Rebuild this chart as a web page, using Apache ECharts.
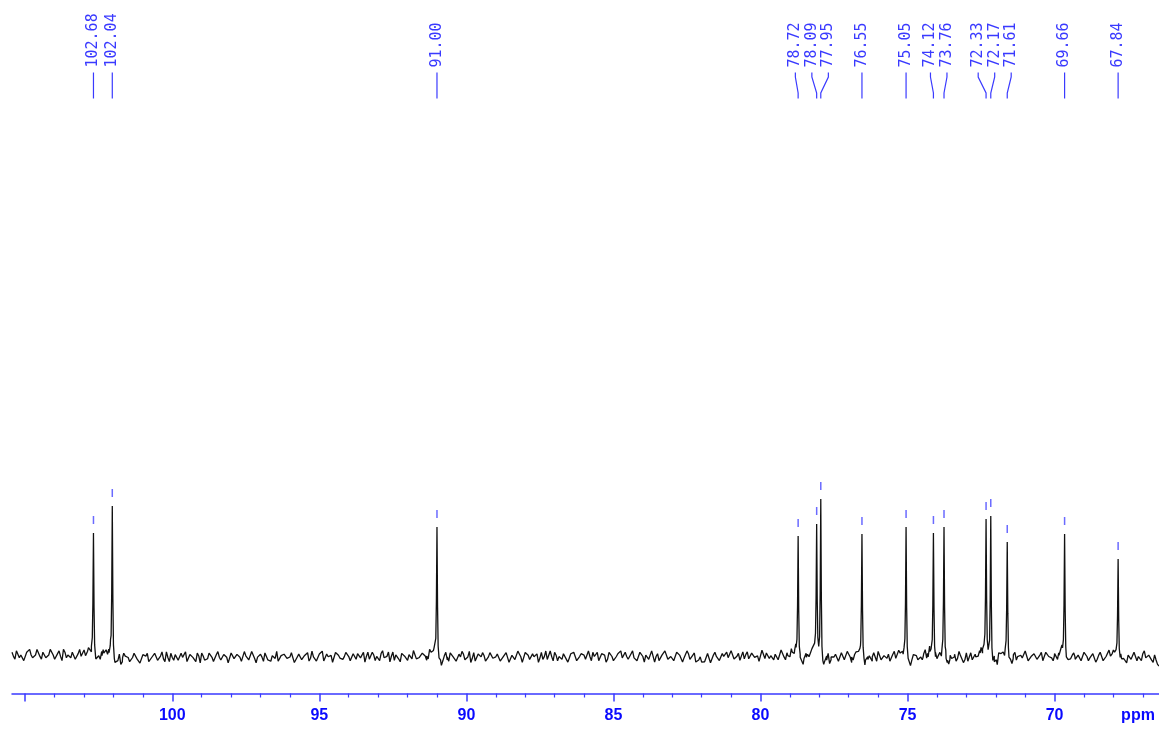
<!DOCTYPE html>
<html>
<head>
<meta charset="utf-8">
<script src="https://cdn.jsdelivr.net/npm/echarts@6/dist/echarts.min.js"></script>
<style>
html,body{margin:0;padding:0;background:#fff;}
#chart{width:1159px;height:729px;}
</style>
</head>
<body>
<div id="chart"></div>
<script>
// ---- data ----
const PEAK_PPM = [102.68, 102.04, 91.00, 78.72, 78.09, 77.95, 76.55, 75.05, 74.12, 73.76, 72.33, 72.17, 71.61, 69.66, 67.84];
const PEAK_INT = [123, 150, 129, 120, 132, 157, 122, 129, 123, 129, 137, 140, 114, 122, 97];
const PEAK_LABELS = ["102.68", "102.04", "91.00", "78.72", "78.09", "77.95", "76.55", "75.05", "74.12", "73.76", "72.33", "72.17", "71.61", "69.66", "67.84"];

// slow baseline level readings (ppm, intensity)
const BASE_PPM = [105.45, 103.2, 102.4, 101.9, 100.5, 96, 91.3, 90.7, 86, 82.3, 82.12, 82.0, 81.85, 81.6, 79.2, 77.5, 72.8, 70.5, 68.5, 66.75, 66.55, 66.45];
const BASE_VAL = [1, 1, 1.5, -1.5, -1.5, -1, 0, -1, -0.5, -0.5, -3, -9, -2, -0.5, 0.5, -1, -1, -0.5, -0.5, -0.5, -4, -10];

// baseline noise readings (in noise units), one every 0.1 ppm starting at 105.45 ppm
const NOISE_A = [
 2,-3,3,0,-4,2,4,-2,0,3,-3,1,-2,4,0,-3,3,-4,2,0,-2,3,-3,4,0,-2,2,-4,3,0,
 -2,3,1,-3,4,-2,0,-4,3,1,-3,0,4,-2,-3,2,3,-4,0,2,-2,4,-3,0,3,-2,1,-3,0,4,
 -3,2,0,3,-4,1,-2,3,0,-3,4,-2,2,0,-4,3,-2,1,-3,4,0,-2,3,-4,1,0,3,-2,-3,2,
 4,-3,0,2,-2,3,-4,0,3,-2,1,-3,4,0,-2,3,-3,2,0,-4,3,1,-2,0,4,-3,2,-2,3,0,
 -4,3,-2,1,0,-3,4,-2,3,0,-3,2,-4,3,0,1,-2,4,-3,0,2,-3,3,-2,0,4,-4,2,-2,3,
 0,-3,2,4,-2,0,-4,3,-2,1,3,-3,0,4,-2,2,-3,0,3,-4,1,-2,4,0,-3,3,-2,2,0,-4,
 3,0,-2,4,-3,1,0,-2,3,-4,2,3,-3,0,1,-2,4,-3,0,3,-2,1,-4,3,0,-3,2,4,-2,0,
 -3,4,-2,0,3,-4,2,-2,3,0,-3,1,4,-2,0,-3,3,1,-4,0,2,-2,3,-3,4,0,-2,2,-3,3,
 1,-4,0,3,-2,4,-3,2,0,-2,3,-3,1,0,-4,4,-2,3,0,-3,2,-2,4,-3,0,3,-2,0,2,-4,
 3,-2,1,0,-3,4,-2,3,-4,0,2,-3,3,-2,4,0,-3,1,-2,3,-4,2,0,3,-3,4,-2,0,2,-3,
 4,-2,0,-3,3,1,-4,3,-2,0,2,-3,4,-2,3,0,-4,2,-2,3,0,-3,4,1,-2,-3,3,0,-2,2,
 -3,3,0,-2,4,-4,2,0,3,-2,-3,4,0,1,-2,3,-4,0,2,-3,3,-2,4,0,-3,2,-2,3,-4,1,
 0,3,-2,1,-4,4,-3,0,2,-2,3,-3,0,4,-2,1,-3,3,0,-4,2,-2,3,0,-3,4,-2,2,-3,0
];
// second set of noise readings, one every 0.1 ppm starting at 105.40 ppm
const NOISE_B = [
 -1,3,-2,1,-4,2,0,-3,4,-1,2,-2,0,3,-3,1,-1,4,-2,0,2,-3,1,-1,3,-4,0,2,-2,1,
 3,-1,-3,2,0,-2,4,-3,1,0,-2,3,-1,-4,2,1,-3,0,3,-2,1,-1,4,-3,0,2,-2,3,-1,-3,
 2,0,-3,1,3,-2,-1,4,-3,2,0,-2,1,-4,3,-1,2,0,-3,1,-2,4,-1,0,2,-3,3,-2,1,-1,
 -3,1,2,-1,0,3,-4,2,-2,1,3,-1,0,-3,2,4,-2,0,1,-3,2,-1,-2,3,0,-4,1,2,-1,3,
 0,-2,3,-3,1,2,-1,0,-4,3,1,-2,2,0,-3,1,4,-2,-1,2,0,-3,3,1,-2,0,-1,4,-3,2,
 1,-3,0,2,-2,4,-1,-3,2,0,1,-4,3,-1,0,2,-2,1,3,-3,0,-1,2,-4,3,1,-2,0,2,-1,
 -2,4,-1,0,3,-3,1,2,-2,-1,3,0,-4,2,1,-2,0,3,-1,-3,2,1,-2,4,-3,0,1,-1,3,-2,
 2,-1,-3,3,0,1,-2,4,-4,2,-1,0,3,-2,1,-3,2,0,-1,4,-2,1,-3,0,2,-1,3,-4,1,0,
 -3,2,1,-1,4,-2,0,-3,3,1,-2,2,-1,0,-4,3,2,-2,0,1,-3,4,-1,2,-2,0,3,-3,1,-1,
 1,0,-2,3,-3,2,-1,4,-2,0,1,-3,3,-1,2,-4,0,1,-2,3,-1,2,-3,0,4,-2,1,-1,-3,2,
 -1,3,-2,0,2,-4,3,1,-1,-2,4,-3,0,2,-1,1,-2,3,-3,0,2,-1,1,-4,3,0,-2,2,-1,3,
 0,-3,2,1,-2,3,-1,-4,2,0,3,-2,1,-1,4,-3,0,2,-2,1,-3,3,0,-1,2,-4,1,3,-2,0,
 2,-2,1,-3,3,0,-1,2,-4,1,3,-2,0,-1,2,-3,4,-1,0,1,-2,3,-3,0,2,-1,1,-2,3,-1
];
const NOISE_A_START = 105.45, NOISE_B_START = 105.40, NOISE_STEP = 0.1;
const NOISE_UNIT = 1.4; // intensity per noise unit

// line shape of one peak (offset in ppm, fraction of height)
const PROFILE_OFF = [0.35, 0.2, 0.12, 0.07, 0.04, 0.02, 0, -0.02, -0.04, -0.07, -0.12, -0.2, -0.35];
const PROFILE_FRAC = [0, 0.03, 0.045, 0.07, 0.14, 0.42, 1, 0.38, 0.08, -0.01, -0.025, -0.02, 0];

// axis ticks
const MAJOR_TICKS = [70, 75, 80, 85, 90, 95, 100, 105];
const LABELED_TICKS = [70, 75, 80, 85, 90, 95, 100];
const MINOR_TICKS = [67,68,69,71,72,73,74,76,77,78,79,81,82,83,84,86,87,88,89,91,92,93,94,96,97,98,99,101,102,103,104];
const X_MIN = 66.45, X_MAX = 105.45;

// ---- build spectrum line from the readings ----
function interp(xs, ys, x) { // xs descending
  if (x >= xs[0]) return ys[0];
  for (let k = 0; k < xs.length - 1; k++) {
    if (x <= xs[k] && x >= xs[k + 1]) {
      const t = (xs[k] - x) / (xs[k] - xs[k + 1]);
      return ys[k] + t * (ys[k + 1] - ys[k]);
    }
  }
  return ys[ys.length - 1];
}
function prof(d) {
  if (d > PROFILE_OFF[0] || d < PROFILE_OFF[PROFILE_OFF.length - 1]) return 0;
  return interp(PROFILE_OFF, PROFILE_FRAC, d);
}
const drift = x => interp(BASE_PPM, BASE_VAL, x);
const amp = PEAK_INT.map((h, i) => h - drift(PEAK_PPM[i]));
for (let it = 0; it < 8; it++) {
  PEAK_PPM.forEach((p, i) => {
    let tot = drift(p);
    PEAK_PPM.forEach((q, j) => { tot += amp[j] * prof(p - q); });
    amp[i] += PEAK_INT[i] - tot;
  });
}
const peakSum = x => PEAK_PPM.reduce((s, q, j) => s + amp[j] * prof(x - q), 0);
const pts = [];
function addNoise(list, start) {
  list.forEach((n, k) => {
    const x = start - k * NOISE_STEP;
    if (x < X_MIN) return;
    if (PEAK_PPM.some(p => Math.abs(x - p) < 0.05)) return;
    pts.push([x, drift(x) + n * NOISE_UNIT + peakSum(x)]);
  });
}
addNoise(NOISE_A, NOISE_A_START);
addNoise(NOISE_B, NOISE_B_START);
PEAK_PPM.forEach(p => {
  PROFILE_OFF.forEach(o => { const x = p + o; pts.push([x, drift(x) + peakSum(x)]); });
});
pts.push([X_MIN, drift(X_MIN)]);
pts.sort((a, b) => b[0] - a[0]);

// ---- label layout ----
const GAP = 16.5;
function layoutLabels(api) {
  const px = PEAK_PPM.map((p, i) => api.coord([p, PEAK_INT[i]])[0]);
  const order = px.map((x, i) => i).sort((a, b) => px[a] - px[b]);
  let clusters = order.map(i => ({ members: [i], center: px[i] }));
  let merged = true;
  while (merged) {
    merged = false;
    for (let k = 0; k < clusters.length - 1; k++) {
      const A = clusters[k], B = clusters[k + 1];
      const aLast = A.center + (A.members.length - 1) / 2 * GAP;
      const bFirst = B.center - (B.members.length - 1) / 2 * GAP;
      if (bFirst - aLast < GAP) {
        const m = A.members.concat(B.members);
        const c = m.reduce((s, i) => s + px[i], 0) / m.length;
        clusters.splice(k, 2, { members: m, center: c });
        merged = true;
        break;
      }
    }
  }
  const lx = new Array(px.length);
  clusters.forEach(c => c.members.forEach((i, k) => { lx[i] = c.center + (k - (c.members.length - 1) / 2) * GAP; }));
  return { px, lx };
}

const BLUE = '#3a3aff';
const chart = echarts.init(document.getElementById('chart'), null, { renderer: 'canvas' });
chart.setOption({
  animation: false,
  backgroundColor: '#ffffff',
  grid: { left: 12, right: 0, top: 0, bottom: 35.5 },
  xAxis: [{
    type: 'value', inverse: true, min: X_MIN, max: X_MAX, position: 'bottom',
    axisLine: { show: true, onZero: false, lineStyle: { color: BLUE, width: 1.5 } },
    axisTick: { show: true, customValues: MAJOR_TICKS, length: 8, lineStyle: { color: BLUE, width: 1.5 } },
    axisLabel: { show: true, customValues: LABELED_TICKS, margin: 14, color: '#0a0aff', fontSize: 16, fontWeight: 'bold', fontFamily: '"Liberation Sans", Arial, sans-serif' },
    splitLine: { show: false }
  }, {
    type: 'value', inverse: true, min: X_MIN, max: X_MAX, position: 'bottom',
    axisLine: { show: false, onZero: false },
    axisTick: { show: true, customValues: MINOR_TICKS, length: 4, lineStyle: { color: BLUE, width: 1.2 } },
    axisLabel: { show: false },
    splitLine: { show: false }
  }],
  yAxis: { type: 'value', show: false, min: -37.5, max: 656, splitLine: { show: false } },
  graphic: [{
    type: 'text', x: 1138, y: 716,
    style: { text: 'ppm', fill: '#0a0aff', font: 'bold 16px "Liberation Sans", Arial, sans-serif', align: 'center', verticalAlign: 'middle' }
  }],
  series: [{
    type: 'line', xAxisIndex: 0, data: pts, showSymbol: false, symbol: 'none',
    lineStyle: { color: '#111111', width: 1.3 }, silent: true, sampling: null
  }, {
    type: 'custom', xAxisIndex: 0, coordinateSystem: 'cartesian2d', clip: false, silent: true,
    data: PEAK_PPM.map((p, i) => [p, PEAK_INT[i]]),
    encode: { x: 0, y: 1 },
    renderItem: function (params, api) {
      const i = params.dataIndex;
      const L = layoutLabels(api);
      const top = api.coord([PEAK_PPM[i], PEAK_INT[i]]);
      const px = L.px[i], lx = L.lx[i];
      return {
        type: 'group',
        children: [{
          type: 'text', x: lx, y: 67.5, rotation: Math.PI / 2,
          style: { text: PEAK_LABELS[i], fill: BLUE, font: '15px "DejaVu Sans Mono", monospace', align: 'left', verticalAlign: 'middle' }
        }, {
          type: 'polyline',
          shape: { points: [[lx, 72.5], [lx, 77], [px, 93], [px, 98.5]] },
          style: { stroke: BLUE, lineWidth: 1.2, fill: null }
        }, {
          type: 'line',
          shape: { x1: px, y1: top[1] - 17, x2: px, y2: top[1] - 9 },
          style: { stroke: '#6a6aff', lineWidth: 1.5 }
        }]
      };
    }
  }]
});
</script>
</body>
</html>
